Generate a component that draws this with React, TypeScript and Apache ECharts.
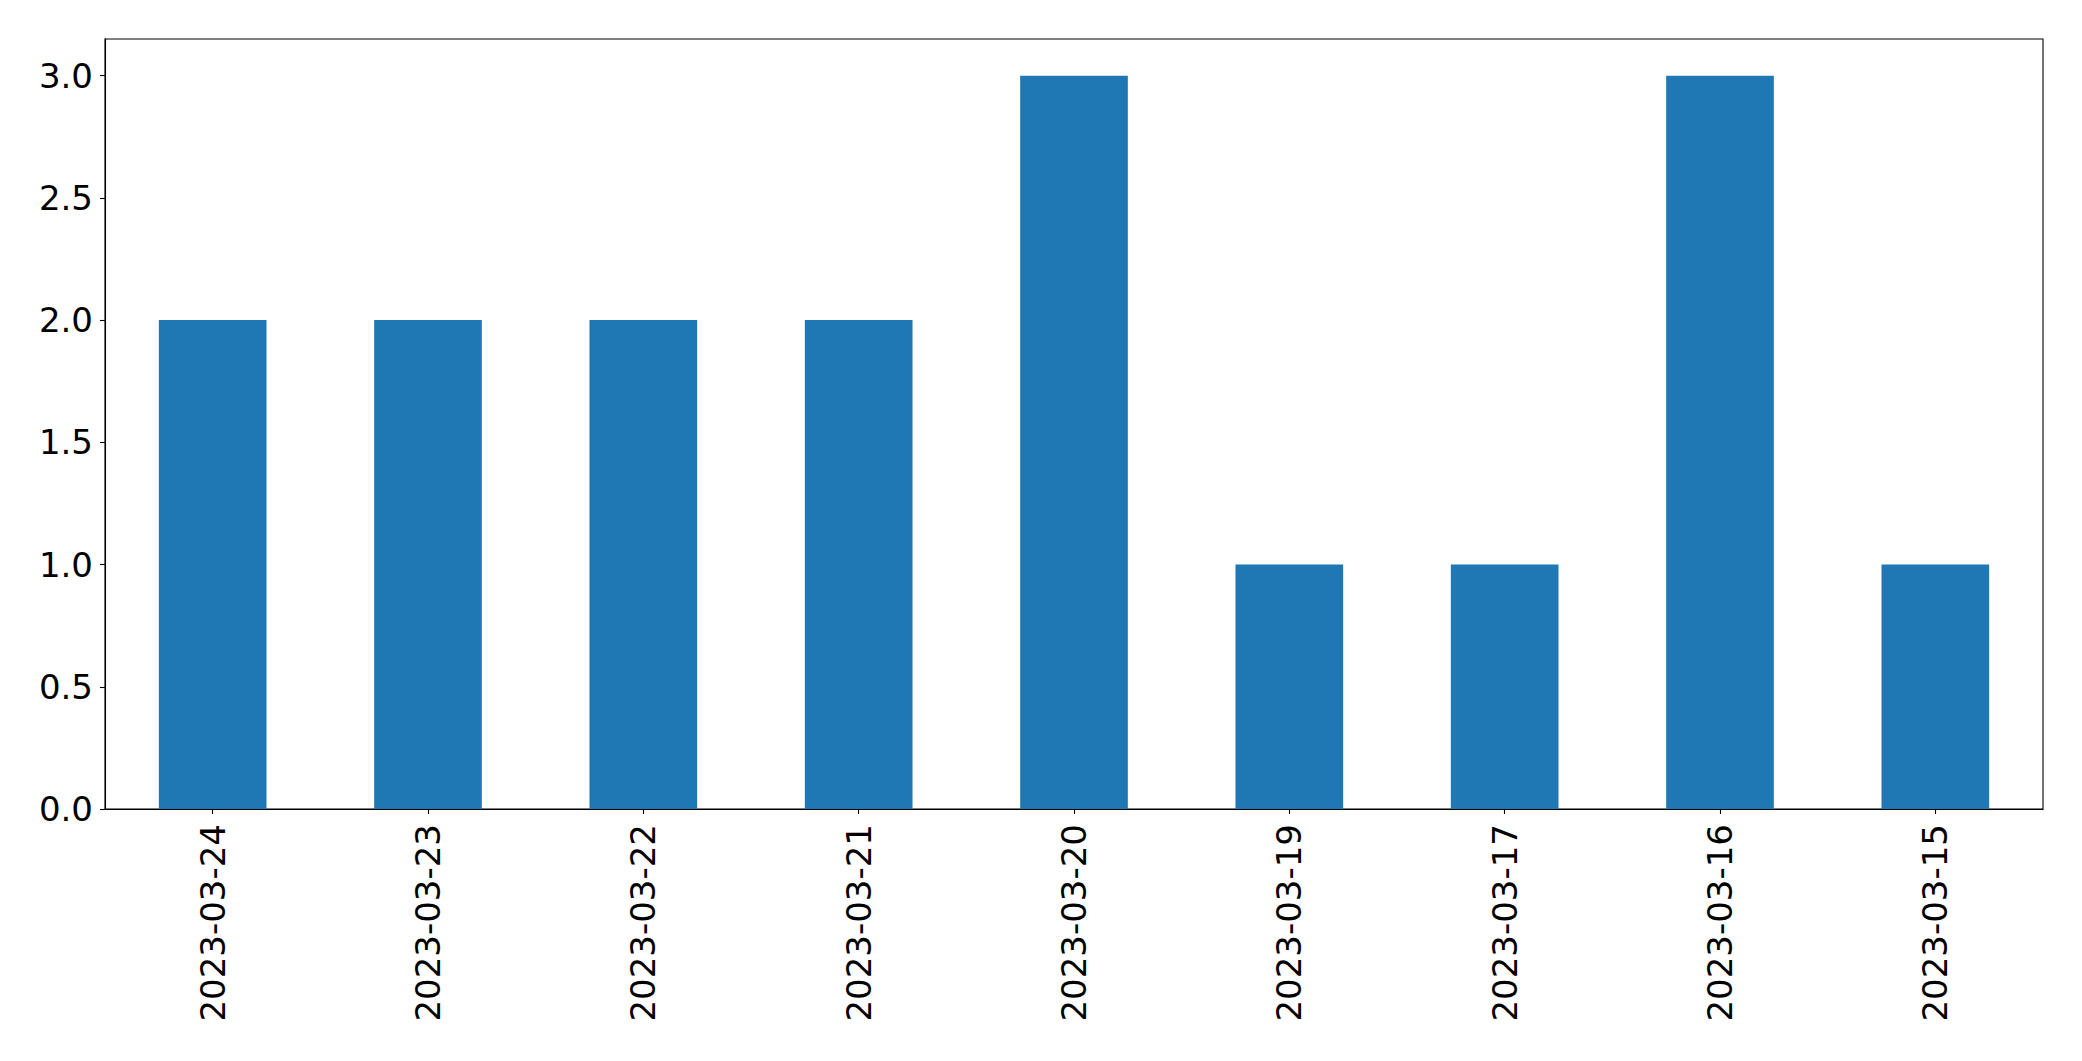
import React, { useEffect, useRef } from "react";
import * as echarts from "echarts";

const categories = [
  "2023-03-24",
  "2023-03-23",
  "2023-03-22",
  "2023-03-21",
  "2023-03-20",
  "2023-03-19",
  "2023-03-17",
  "2023-03-16",
  "2023-03-15",
];
const values = [2, 2, 2, 2, 3, 1, 1, 3, 1];
const yTicks = [0, 0.5, 1, 1.5, 2, 2.5, 3];

export default function App() {
  const ref = useRef<HTMLDivElement>(null);
  useEffect(() => {
    if (!ref.current) return;
    const chart = echarts.init(ref.current, undefined, { renderer: "svg" });
    const font = "DejaVu Sans";
    chart.setOption({
      animation: false,
      backgroundColor: "#ffffff",
      grid: {
        left: 105,
        top: 39,
        right: 39,
        bottom: 252,
        show: true,
        borderColor: "#000000",
        borderWidth: 1.1,
        backgroundColor: "transparent",
      },
      xAxis: {
        type: "category",
        data: categories,
        boundaryGap: true,
        axisLine: { show: true, lineStyle: { color: "#000", width: 1.1 } },
        axisTick: {
          show: true,
          alignWithLabel: true,
          length: 5,
          lineStyle: { color: "#000", width: 1.1 },
        },
        axisLabel: {
          rotate: 90,
          interval: 0,
          margin: 15,
          fontFamily: font,
          fontSize: 34,
          color: "#000",
        },
        splitLine: { show: false },
      },
      yAxis: {
        type: "value",
        min: 0,
        max: 3.15,
        interval: 0.5,
        axisLine: { show: true, lineStyle: { color: "#000", width: 1.1 } },
        axisTick: {
          show: true,
          length: 5,
          lineStyle: { color: "#000", width: 1.1 },
          customValues: yTicks,
        },
        axisLabel: {
          margin: 12,
          fontFamily: font,
          fontSize: 34,
          color: "#000",
          customValues: yTicks,
          formatter: (v: number) => v.toFixed(1),
        },
        splitLine: { show: false },
      },
      series: [
        {
          type: "bar",
          data: values,
          barWidth: "50%",
          itemStyle: { color: "#1f77b4" },
        },
      ],
    });
    return () => chart.dispose();
  }, []);
  return (
    <div
      ref={ref}
      style={{ position: "fixed", left: 0, top: 0, width: 2082, height: 1061 }}
    />
  );
}
